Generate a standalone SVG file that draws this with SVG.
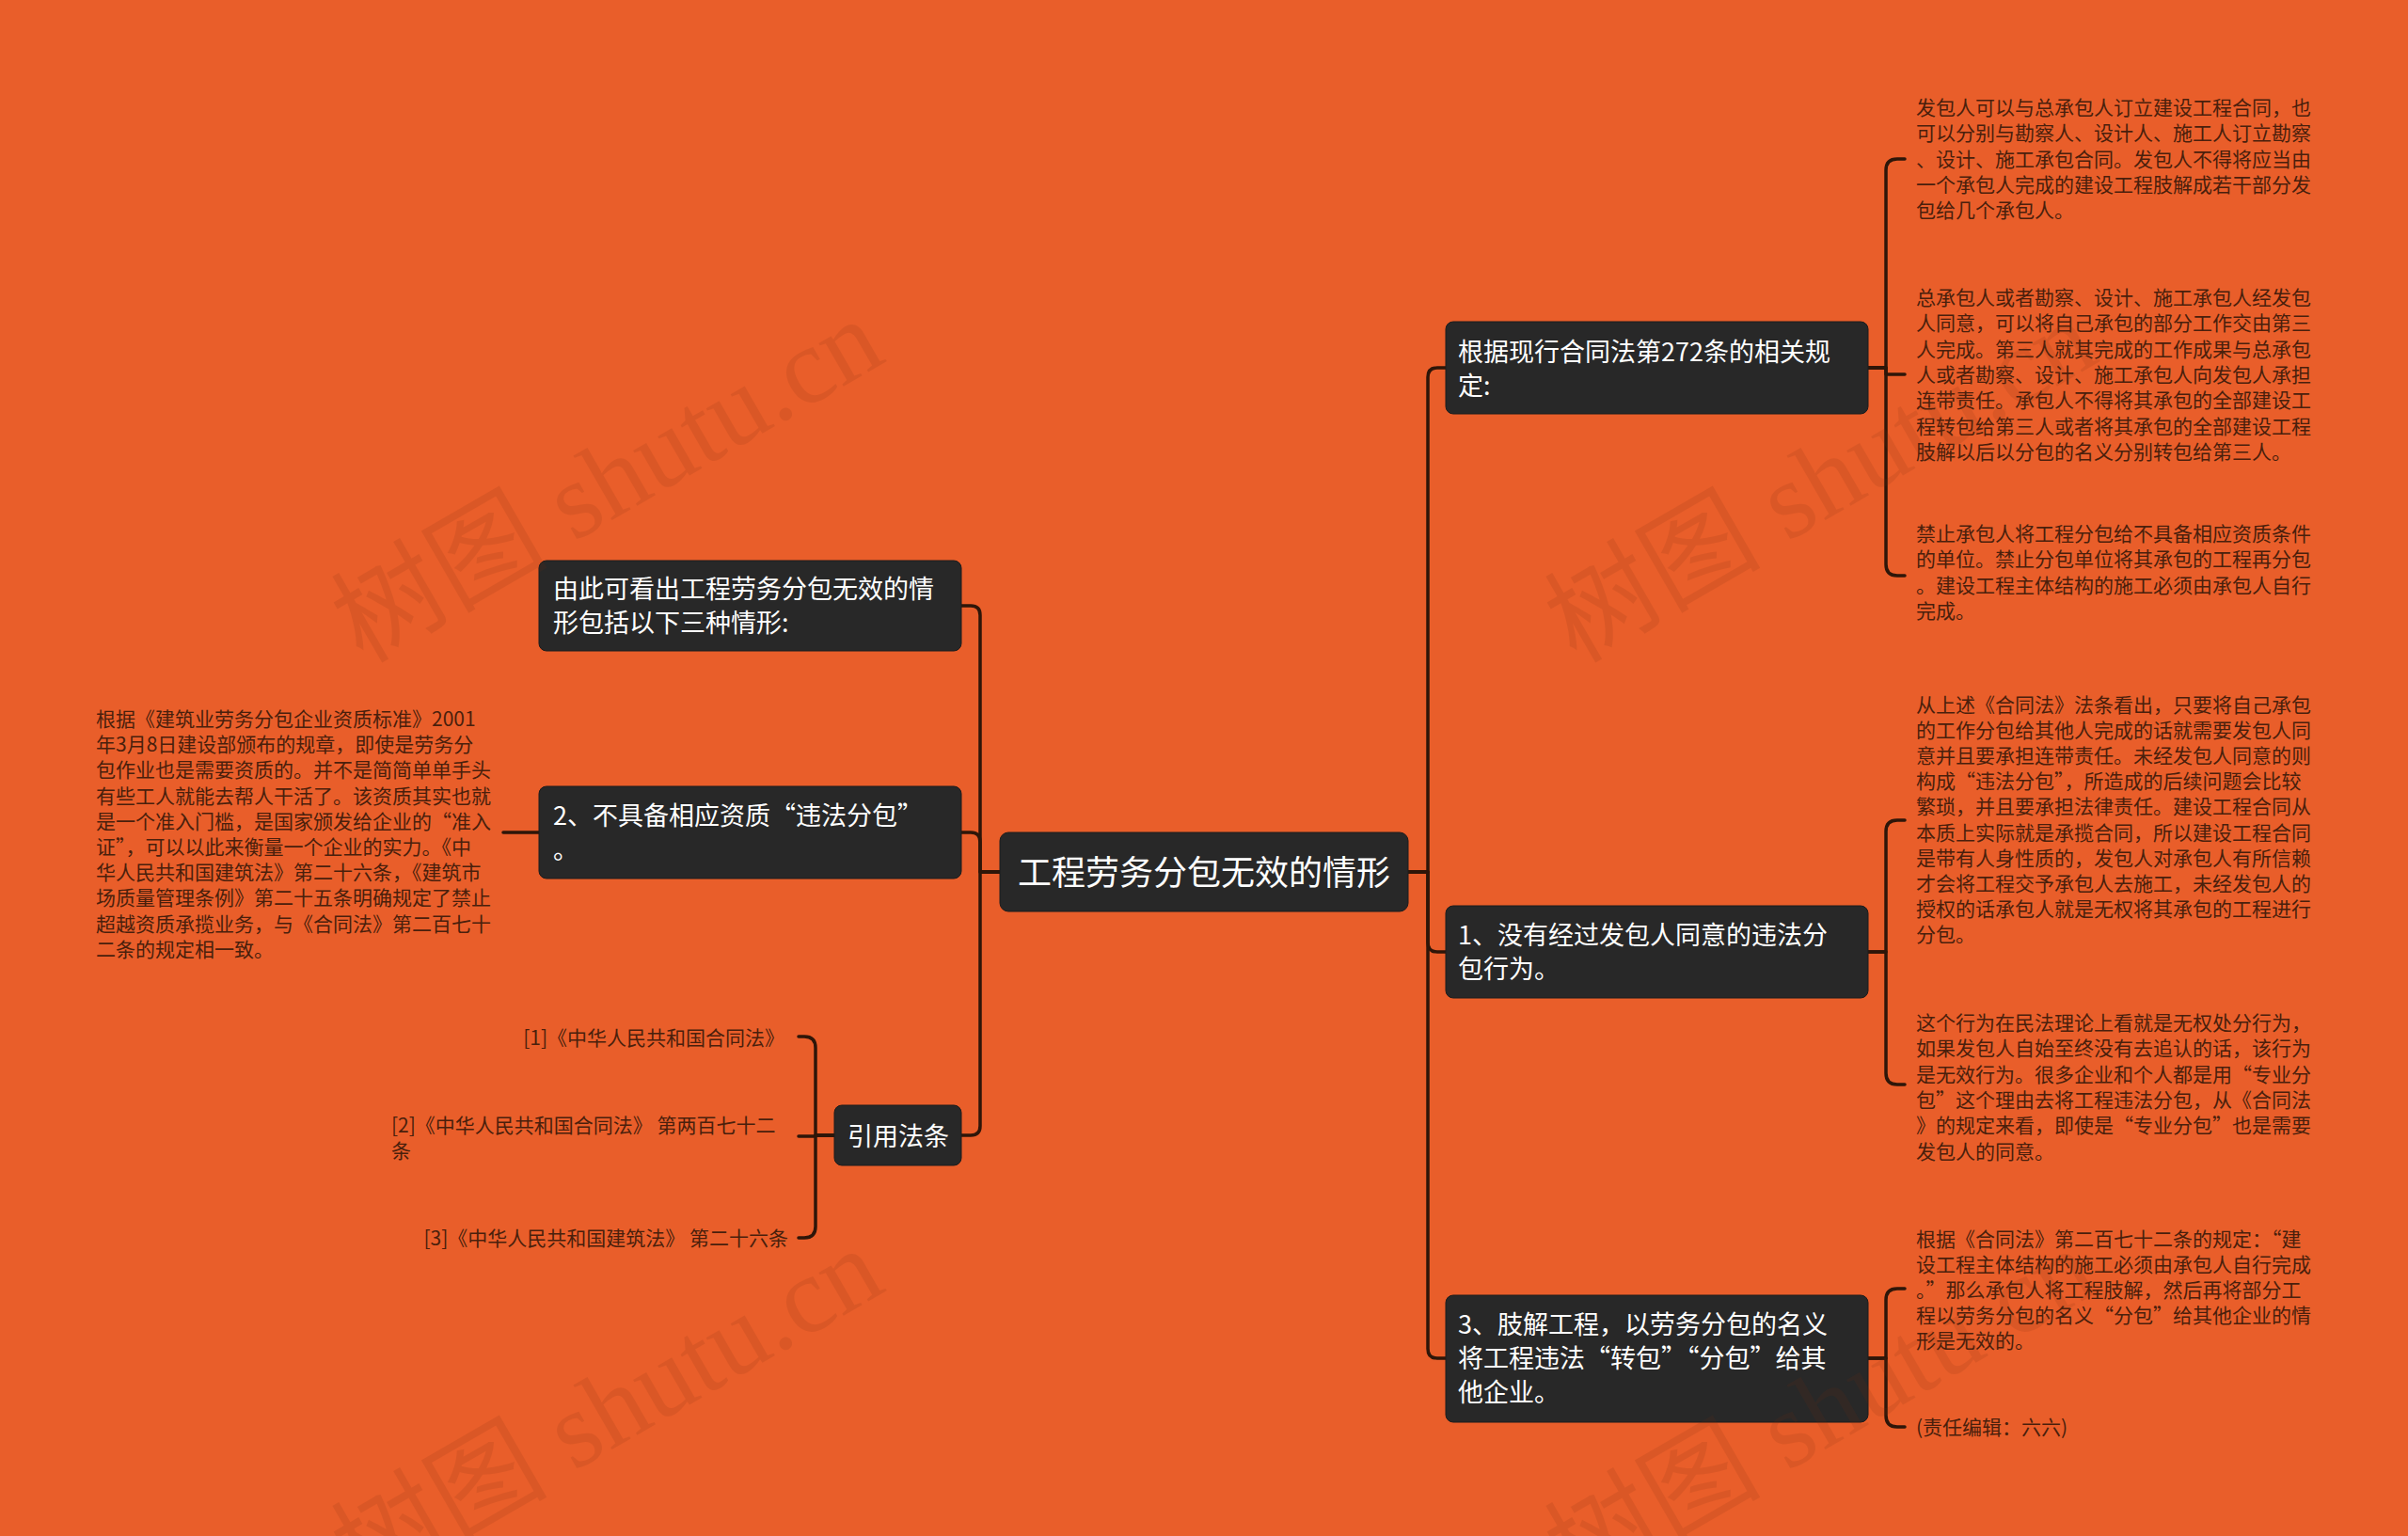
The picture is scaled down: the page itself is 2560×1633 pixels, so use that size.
<svg xmlns="http://www.w3.org/2000/svg" width="2560" height="1633" viewBox="0 0 2560 1633">
<style>
.bg{fill:#E95E2A}
.box{fill:#282828;stroke:#1c1c1c;stroke-width:1}
.nt{font-family:"Noto Sans CJK SC","Noto Sans",sans-serif;font-size:27px;fill:#ffffff}
.rt{font-family:"Noto Sans CJK SC","Noto Sans",sans-serif;font-size:36px;fill:#ffffff}
.lt{font-family:"Noto Sans CJK SC","Noto Sans",sans-serif;font-size:21px;fill:#4a1f0c}
.q{font-feature-settings:"fwid" 1}
.ln{fill:none;stroke:#2e1609;stroke-width:3.5;stroke-linecap:round;stroke-linejoin:round}
.wm{font-family:"Liberation Serif","Noto Sans CJK SC",serif;font-size:115px;fill:#7a2e10;opacity:0.13}
</style>
<rect class="bg" x="0" y="0" width="2560" height="1633"/>

<g id="connectors">
  <path class="ln" d="M1497,927 H1518 V401 Q1518,391 1528,391 H1537"/>
  <path class="ln" d="M1497,927 H1518 V1002 Q1518,1012 1528,1012 H1537"/>
  <path class="ln" d="M1497,927 H1518 V1434 Q1518,1444 1528,1444 H1537"/>
  <path class="ln" d="M1063,927 H1042 V654 Q1042,644 1032,644 H1022"/>
  <path class="ln" d="M1063,927 H1042 V895 Q1042,885 1032,885 H1022"/>
  <path class="ln" d="M1063,927 H1042 V1197 Q1042,1207 1032,1207 H1022"/>
  <path class="ln" d="M1986,391 H2005 V181 Q2005,169 2017,169 H2025"/>
  <path class="ln" d="M1986,391 H2005 V398 H2025"/>
  <path class="ln" d="M1986,391 H2005 V600 Q2005,612 2017,612 H2025"/>
  <path class="ln" d="M1986,1012 H2005 V884 Q2005,872 2017,872 H2025"/>
  <path class="ln" d="M1986,1012 H2005 V1141 Q2005,1153 2017,1153 H2025"/>
  <path class="ln" d="M1986,1444 H2005 V1382 Q2005,1370 2017,1370 H2025"/>
  <path class="ln" d="M1986,1444 H2005 V1505 Q2005,1517 2017,1517 H2025"/>
  <path class="ln" d="M573,885 H535"/>
  <path class="ln" d="M887,1207 H867 V1114 Q867,1102 855,1102 H849"/>
  <path class="ln" d="M887,1207 H867 V1208 H849"/>
  <path class="ln" d="M887,1207 H867 V1304 Q867,1316 855,1316 H849"/>
</g>

<g id="root">
  <rect class="box" x="1063" y="885" width="434" height="84" rx="9"/>
  <text class="rt" x="1082" y="941">工程劳务分包无效的情形</text>
</g>

<g id="nodeA">
  <rect class="box" x="1537" y="342" width="449" height="98" rx="8"/>
  <text class="nt" x="1550" y="384">根据现行合同法第272条的相关规</text>
  <text class="nt" x="1550" y="420">定:</text>
</g>
<g id="nodeB">
  <rect class="box" x="1537" y="963" width="449" height="98" rx="8"/>
  <text class="nt" x="1550" y="1004">1、没有经过发包人同意的违法分</text>
  <text class="nt" x="1550" y="1040">包行为。</text>
</g>
<g id="nodeC">
  <rect class="box" x="1537" y="1377" width="449" height="135" rx="8"/>
  <text class="nt" x="1550" y="1418">3、肢解工程，以劳务分包的名义</text>
  <text class="nt" x="1550" y="1454">将工程违法<tspan class="q">“</tspan>转包<tspan class="q">”“</tspan>分包<tspan class="q">”</tspan>给其</text>
  <text class="nt" x="1550" y="1490">他企业。</text>
</g>
<g id="nodeL1">
  <rect class="box" x="573" y="596" width="449" height="96" rx="8"/>
  <text class="nt" x="588" y="636">由此可看出工程劳务分包无效的情</text>
  <text class="nt" x="588" y="672">形包括以下三种情形:</text>
</g>
<g id="nodeL2">
  <rect class="box" x="573" y="836" width="449" height="98" rx="8"/>
  <text class="nt" x="588" y="877">2、不具备相应资质<tspan class="q">“</tspan>违法分包<tspan class="q">”</tspan></text>
  <text class="nt" x="588" y="913">。</text>
</g>
<g id="nodeL3">
  <rect class="box" x="887" y="1175" width="135" height="64" rx="8"/>
  <text class="nt" x="901" y="1218">引用法条</text>
</g>

<g id="leafA1">
  <text class="lt" x="2037" y="122">发包人可以与总承包人订立建设工程合同，也</text>
  <text class="lt" x="2037" y="149.3">可以分别与勘察人、设计人、施工人订立勘察</text>
  <text class="lt" x="2037" y="176.6">、设计、施工承包合同。发包人不得将应当由</text>
  <text class="lt" x="2037" y="203.9">一个承包人完成的建设工程肢解成若干部分发</text>
  <text class="lt" x="2037" y="231.2">包给几个承包人。</text>
</g>
<g id="leafA2">
  <text class="lt" x="2037" y="324">总承包人或者勘察、设计、施工承包人经发包</text>
  <text class="lt" x="2037" y="351.3">人同意，可以将自己承包的部分工作交由第三</text>
  <text class="lt" x="2037" y="378.6">人完成。第三人就其完成的工作成果与总承包</text>
  <text class="lt" x="2037" y="405.9">人或者勘察、设计、施工承包人向发包人承担</text>
  <text class="lt" x="2037" y="433.2">连带责任。承包人不得将其承包的全部建设工</text>
  <text class="lt" x="2037" y="460.5">程转包给第三人或者将其承包的全部建设工程</text>
  <text class="lt" x="2037" y="487.8">肢解以后以分包的名义分别转包给第三人。</text>
</g>
<g id="leafA3">
  <text class="lt" x="2037" y="575">禁止承包人将工程分包给不具备相应资质条件</text>
  <text class="lt" x="2037" y="602.3">的单位。禁止分包单位将其承包的工程再分包</text>
  <text class="lt" x="2037" y="629.6">。建设工程主体结构的施工必须由承包人自行</text>
  <text class="lt" x="2037" y="656.9">完成。</text>
</g>
<g id="leafB1">
  <text class="lt" x="2037" y="757">从上述《合同法》法条看出，只要将自己承包</text>
  <text class="lt" x="2037" y="784.1">的工作分包给其他人完成的话就需要发包人同</text>
  <text class="lt" x="2037" y="811.2">意并且要承担连带责任。未经发包人同意的则</text>
  <text class="lt" x="2037" y="838.3">构成<tspan class="q">“</tspan>违法分包<tspan class="q">”</tspan>，所造成的后续问题会比较</text>
  <text class="lt" x="2037" y="865.4">繁琐，并且要承担法律责任。建设工程合同从</text>
  <text class="lt" x="2037" y="892.5">本质上实际就是承揽合同，所以建设工程合同</text>
  <text class="lt" x="2037" y="919.6">是带有人身性质的，发包人对承包人有所信赖</text>
  <text class="lt" x="2037" y="946.7">才会将工程交予承包人去施工，未经发包人的</text>
  <text class="lt" x="2037" y="973.8">授权的话承包人就是无权将其承包的工程进行</text>
  <text class="lt" x="2037" y="1000.9">分包。</text>
</g>
<g id="leafB2">
  <text class="lt" x="2037" y="1095">这个行为在民法理论上看就是无权处分行为，</text>
  <text class="lt" x="2037" y="1122.3">如果发包人自始至终没有去追认的话，该行为</text>
  <text class="lt" x="2037" y="1149.6">是无效行为。很多企业和个人都是用<tspan class="q">“</tspan>专业分</text>
  <text class="lt" x="2037" y="1176.9">包<tspan class="q">”</tspan>这个理由去将工程违法分包，从《合同法</text>
  <text class="lt" x="2037" y="1204.2">》的规定来看，即使是<tspan class="q">“</tspan>专业分包<tspan class="q">”</tspan>也是需要</text>
  <text class="lt" x="2037" y="1231.5">发包人的同意。</text>
</g>
<g id="leafC1">
  <text class="lt" x="2037" y="1325">根据《合同法》第二百七十二条的规定：<tspan class="q">“</tspan>建</text>
  <text class="lt" x="2037" y="1352.1">设工程主体结构的施工必须由承包人自行完成</text>
  <text class="lt" x="2037" y="1379.2">。<tspan class="q">”</tspan>那么承包人将工程肢解，然后再将部分工</text>
  <text class="lt" x="2037" y="1406.3">程以劳务分包的名义<tspan class="q">“</tspan>分包<tspan class="q">”</tspan>给其他企业的情</text>
  <text class="lt" x="2037" y="1433.4">形是无效的。</text>
</g>
<g id="leafC2">
  <text class="lt" x="2037" y="1525">(责任编辑：六六)</text>
</g>
<g id="leafL2">
  <text class="lt" x="102" y="772">根据《建筑业劳务分包企业资质标准》2001</text>
  <text class="lt" x="102" y="799.2">年3月8日建设部颁布的规章，即使是劳务分</text>
  <text class="lt" x="102" y="826.4">包作业也是需要资质的。并不是简简单单手头</text>
  <text class="lt" x="102" y="853.6">有些工人就能去帮人干活了。该资质其实也就</text>
  <text class="lt" x="102" y="880.8">是一个准入门槛，是国家颁发给企业的<tspan class="q">“</tspan>准入</text>
  <text class="lt" x="102" y="908">证<tspan class="q">”</tspan>，可以以此来衡量一个企业的实力。《中</text>
  <text class="lt" x="102" y="935.2">华人民共和国建筑法》第二十六条，《建筑市</text>
  <text class="lt" x="102" y="962.4">场质量管理条例》第二十五条明确规定了禁止</text>
  <text class="lt" x="102" y="989.6">超越资质承揽业务，与《合同法》第二百七十</text>
  <text class="lt" x="102" y="1016.8">二条的规定相一致。</text>
</g>
<g id="ref1">
  <text class="lt" x="834" y="1111" text-anchor="end">[1]《中华人民共和国合同法》</text>
</g>
<g id="ref2">
  <text class="lt" x="416" y="1204">[2]《中华人民共和国合同法》 第两百七十二</text>
  <text class="lt" x="416" y="1231">条</text>
</g>
<g id="ref3">
  <text class="lt" x="838" y="1324" text-anchor="end">[3]《中华人民共和国建筑法》 第二十六条</text>
</g>

<g id="watermarks">
  <text class="wm" x="645" y="550" text-anchor="middle" transform="rotate(-30 645 510)">树图 shutu.cn</text>
  <text class="wm" x="1935" y="550" text-anchor="middle" transform="rotate(-30 1935 510)">树图 shutu.cn</text>
  <text class="wm" x="645" y="1538" text-anchor="middle" transform="rotate(-30 645 1498)">树图 shutu.cn</text>
  <text class="wm" x="1935" y="1538" text-anchor="middle" transform="rotate(-30 1935 1498)">树图 shutu.cn</text>
</g>
</svg>
